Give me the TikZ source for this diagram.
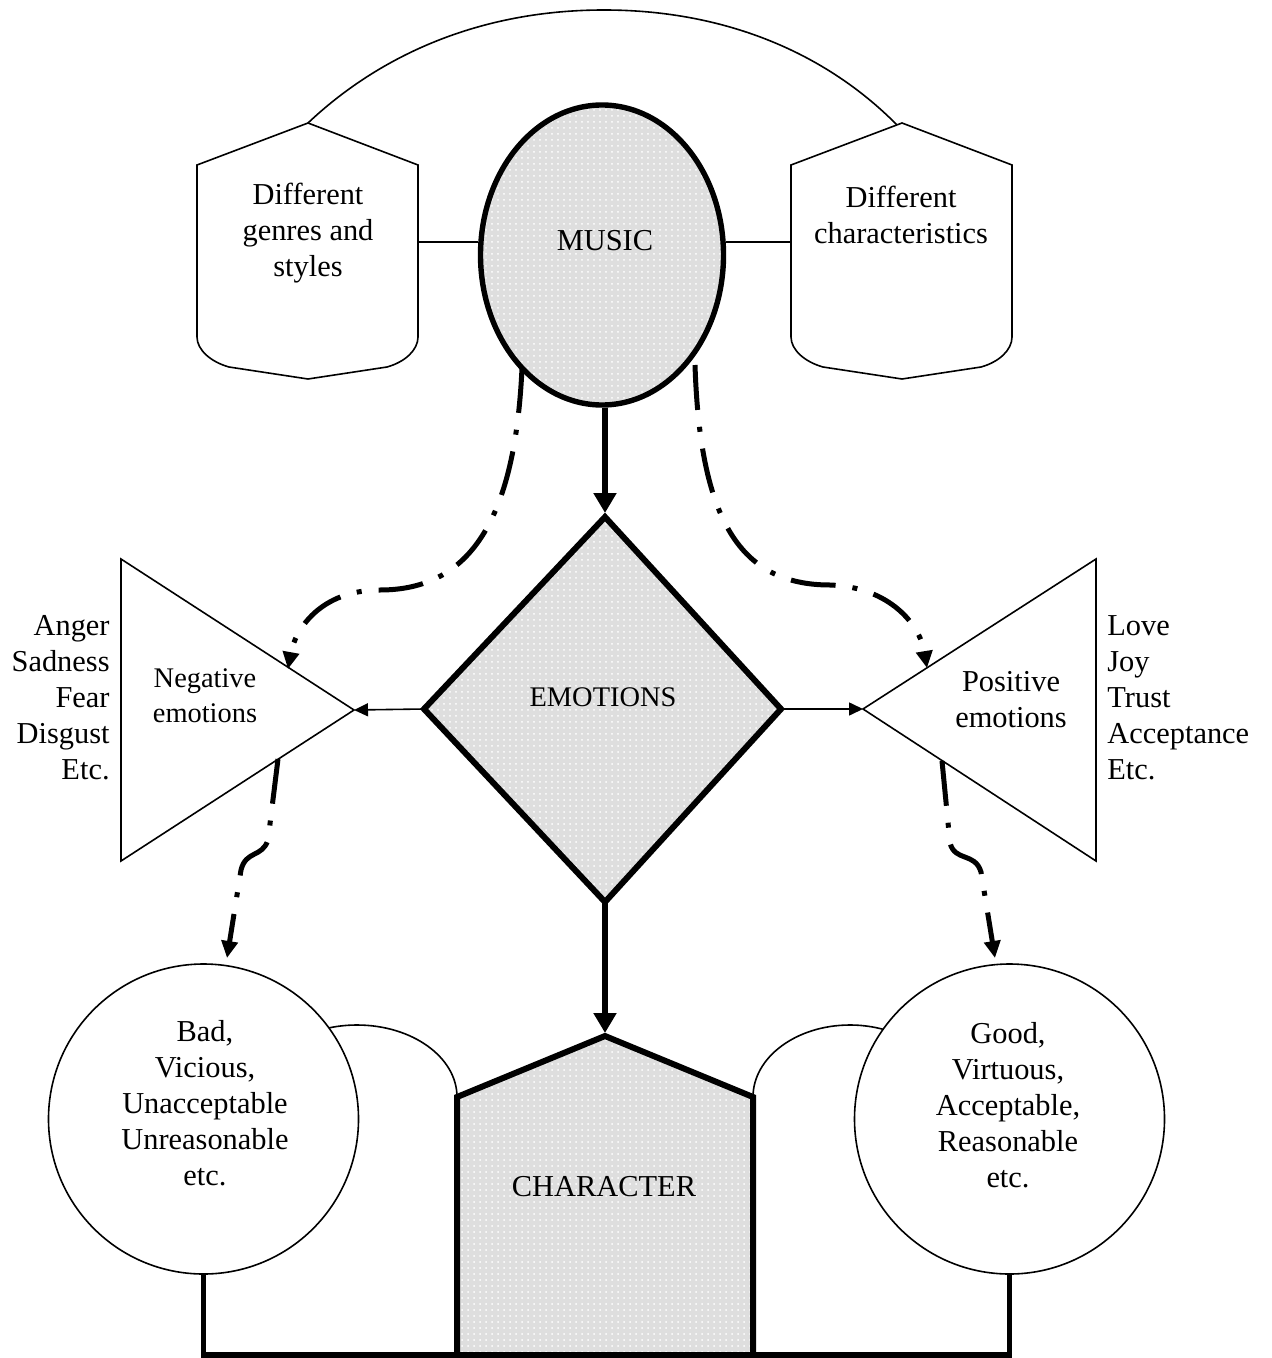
\documentclass[tikz,border=0pt]{standalone}
\usepackage{fontspec}
\setmainfont{Liberation Serif}
\usetikzlibrary{shapes.geometric,arrows.meta,patterns}
\begin{document}
\begin{tikzpicture}[x=0.5pt,y=-0.5pt,
  txt/.style={font=\fontsize{15.2}{18}\selectfont, align=center, inner sep=0pt},
  smalltxt/.style={font=\fontsize{14.2}{17.5}\selectfont, align=center, inner sep=0pt},
  thinln/.style={line width=0.8pt},
  thickln/.style={line width=2.7pt},
  heavyln/.style={line width=3pt},
  dotfill/.style={preaction={fill=black!13}, preaction={pattern=dots, pattern color=white}},
  bigarrow/.style={line width=2.8pt, -{Triangle[width=11pt,length=10pt]}},
  smallarrow/.style={thinln, -{Triangle[width=6.5pt,length=7pt]}},
  dashdot/.style={line width=2.5pt, dash pattern=on 22.5pt off 8.5pt on 2.5pt off 8.5pt, -{Triangle[width=8pt,length=8.5pt]}}
]
\useasboundingbox (0,0) rectangle (1272,1358);

% ---------- top part ----------
\coordinate (gpeak) at (308,123);
\coordinate (carcend) at (897,125);
\draw[thinln] (gpeak) .. controls (380,55) and (480,10) .. (604,10) .. controls (728,10) and (828,55) .. (carcend);

\draw[thinln, fill=white, line join=miter] (197,165) -- (gpeak) -- (418,165) -- (418,337) .. controls (418,350) and (405,362) .. (387,367) -- (308,379) -- (229,367) .. controls (211,362) and (197,350) .. (197,337) -- cycle;
\draw[thinln, fill=white, line join=miter] (791,165) -- (902,123) -- (1012,165) -- (1012,337) .. controls (1012,350) and (999,362) .. (981,367) -- (902,379) -- (823,367) .. controls (805,362) and (791,350) .. (791,337) -- cycle;

\node[txt] (genres) at (308,233) {Different\\genres and\\styles};
\node[txt] (charac) at (901,215) {Different\\characteristics};

\node[ellipse, draw, thickln, dotfill, minimum width=121.5pt, minimum height=150pt, inner sep=0pt] (music) at (602,255) {};
\node[txt] (musictxt) at (605,241) {MUSIC};

\coordinate (gR) at (418,242);
\coordinate (cL) at (791,242);
\draw[thinln] (gR) -- (gR -| music.west);
\draw[thinln] (cL) -- (cL -| music.east);

% ---------- emotions ----------
\coordinate (eT) at (605,517);
\coordinate (eR) at (781,709);
\coordinate (eB) at (605,902);
\coordinate (eL) at (424,709);
\coordinate (eTip) at (605,513);
\draw[heavyln, dotfill, line join=miter] (eT) -- (eR) -- (eB) -- (eL) -- cycle;
\node[smalltxt] (emotxt) at (603,697) {EMOTIONS};
\draw[bigarrow] (music.south -| eTip) -- (eTip);

% negative
\coordinate (nTop) at (121,559);
\coordinate (nBot) at (121,861);
\coordinate (nApex) at (354,710);
\draw[thinln, line join=miter] (nTop) -- (nApex) -- (nBot) -- cycle;
\node[smalltxt] (negtxt) at (205,696) {Negative\\emotions};
\node[txt, align=right, anchor=east] (neglist) at (110,698) {Anger\\Sadness\\Fear\\Disgust\\Etc.};

% positive
\coordinate (pTop) at (1096,559);
\coordinate (pBot) at (1096,861);
\coordinate (pApex) at (863,709);
\draw[thinln, line join=miter] (pTop) -- (pApex) -- (pBot) -- cycle;
\node[txt] (postxt) at (1011,700) {Positive\\emotions};
\node[txt, align=left, anchor=west] (poslist) at (1107,698) {Love\\Joy\\Trust\\Acceptance\\Etc.};

\draw[smallarrow] (eL) -- (nApex);
\draw[smallarrow] (eR) -- (pApex);

% dash-dot from music
\coordinate (mdl) at (522,368);
\coordinate (mdr) at (695,365);
\coordinate (nIn) at (288,669);
\coordinate (pIn) at (927,668);
\draw[dashdot] (mdl) .. controls (515,520) and (470,590) .. (380,590) .. controls (320,590) and (295,630) .. (nIn);
\draw[dashdot] (mdr) .. controls (700,520) and (740,585) .. (830,585) .. controls (890,587) and (920,625) .. (pIn);

% ---------- character ----------
\coordinate (chT) at (605,1036);
\coordinate (chTip) at (605,1033);
\coordinate (chL) at (457,1097);
\coordinate (chR) at (753,1097);
\coordinate (chBL) at (457,1355);
\coordinate (chBR) at (753,1355);

\draw[thinln] (chL) arc[start angle=0, end angle=125, x radius=50pt, y radius=36pt];
\draw[thinln] (chR) arc[start angle=180, end angle=55, x radius=48.5pt, y radius=36pt];

\node[circle, draw, thinln, fill=white, minimum size=155pt, inner sep=0pt] (bad) at (203.5,1119) {};
\node[circle, draw, thinln, fill=white, minimum size=155pt, inner sep=0pt] (good) at (1009.5,1119) {};
\node[txt] (badtxt) at (205,1103) {Bad,\\Vicious,\\Unacceptable\\Unreasonable\\etc.};
\node[txt] (goodtxt) at (1008,1105) {Good,\\Virtuous,\\Acceptable,\\Reasonable\\etc.};

\draw[heavyln, dotfill, line join=miter] (chT) -- (chR) -- (chBR) -- (chBL) -- (chL) -- cycle;
\node[txt] (chartxt) at (604,1187) {CHARACTER};
\draw[bigarrow] (eB) -- (chTip);

\draw[thickln, line join=miter] (bad.south) |- (chBL);
\draw[thickln, line join=miter] (good.south) |- (chBR);

% dash-dot to circles
\coordinate (nOut) at (278,759);
\coordinate (pOut) at (942,761);
\coordinate (badIn) at (227,958);
\coordinate (goodIn) at (995,958);
\draw[dashdot] (nOut) -- (268,840) .. controls (262,858) and (246,850) .. (241,870) -- (badIn);
\draw[dashdot] (pOut) -- (950,843) .. controls (955,862) and (975,852) .. (981,872) -- (goodIn);
\end{tikzpicture}
\end{document}
